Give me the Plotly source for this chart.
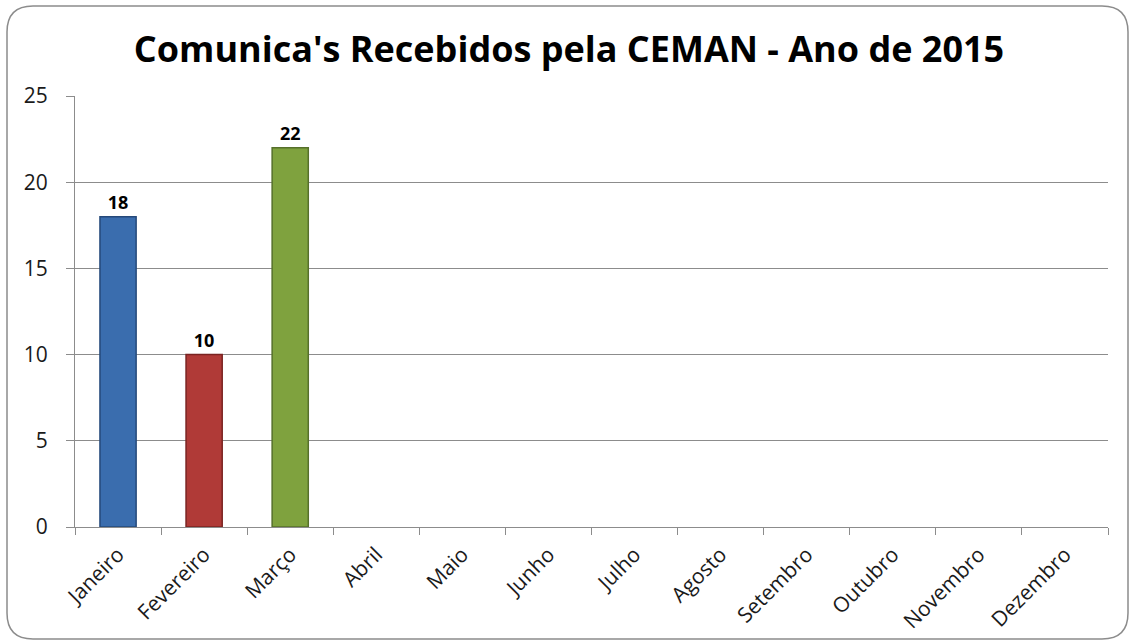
import plotly.graph_objects as go

months = ["Janeiro", "Fevereiro", "Março", "Abril", "Maio", "Junho", "Julho",
          "Agosto", "Setembro", "Outubro", "Novembro", "Dezembro"]
values = [18, 10, 22, None, None, None, None, None, None, None, None, None]
bar_colors = ["#3A6DAE", "#B03A37", "#7FA23E"] + ["#3A6DAE"] * 9
edge_colors = ["#25497A", "#7A2321", "#56702A"] + ["#25497A"] * 9
title_text = "Comunica's Recebidos pela CEMAN - Ano de 2015"

FONT = "'Open Sans', sans-serif"

W, H = 1132, 640
ml, mr, mt, mb = 75, 24, 96, 113
pw, ph = W - ml - mr, H - mt - mb

fig = go.Figure()
fig.add_trace(go.Bar(
    x=months, y=values,
    marker=dict(color=bar_colors, line=dict(color=edge_colors, width=1.5)),
    width=0.42,
    text=[None if v is None else str(v) for v in values],
    textposition="outside",
    textfont=dict(family=FONT, size=18, color="#000000", weight="bold"),
    cliponaxis=False,
    hoverinfo="x+y",
))

# rounded outer frame (pixel -> paper conversion)
def px(x):
    return (x - ml) / pw
def py(y):
    return (H - mb - y) / ph
x0, x1, y0, y1, r = 7, 1128, 6, 639, 26
path = (f"M {px(x0 + r)},{py(y0)} L {px(x1 - r)},{py(y0)} "
        f"Q {px(x1)},{py(y0)} {px(x1)},{py(y0 + r)} "
        f"L {px(x1)},{py(y1 - r)} Q {px(x1)},{py(y1)} {px(x1 - r)},{py(y1)} "
        f"L {px(x0 + r)},{py(y1)} Q {px(x0)},{py(y1)} {px(x0)},{py(y1 - r)} "
        f"L {px(x0)},{py(y0 + r)} Q {px(x0)},{py(y0)} {px(x0 + r)},{py(y0)} Z")
fig.add_shape(type="path", path=path, xref="paper", yref="paper",
              line=dict(color="#8C8C8C", width=1.5), layer="below")

fig.update_layout(
    width=W, height=H,
    margin=dict(l=ml, r=mr, t=mt, b=mb, autoexpand=False),
    paper_bgcolor="white", plot_bgcolor="white",
    title=dict(text=title_text, x=569 / W, xanchor="center", y=1 - 49 / H, yanchor="middle",
               font=dict(family=FONT, size=36, color="#000000", weight="bold")),
    showlegend=False,
    xaxis=dict(
        type="category", tickangle=-45, tickson="boundaries",
        ticks="outside", ticklen=7, tickcolor="#8C8C8C",
        showline=True, linecolor="#8C8C8C", linewidth=1,
        showgrid=False,
        tickfont=dict(family=FONT, size=21, color="#1A1A1A"),
        ticklabelstandoff=6,
    ),
    yaxis=dict(
        range=[0, 25], dtick=5, tick0=0,
        ticks="outside", ticklen=8, tickcolor="#8C8C8C",
        showline=True, linecolor="#8C8C8C", linewidth=1,
        showgrid=True, gridcolor="#8C8C8C", gridwidth=1,
        zeroline=False,
        tickfont=dict(family=FONT, size=21, color="#1A1A1A"),
        ticklabelstandoff=14,
    ),
)

fig.write_html("out.html", config={"displayModeBar": False},
               post_script="document.body.style.margin='0';")
